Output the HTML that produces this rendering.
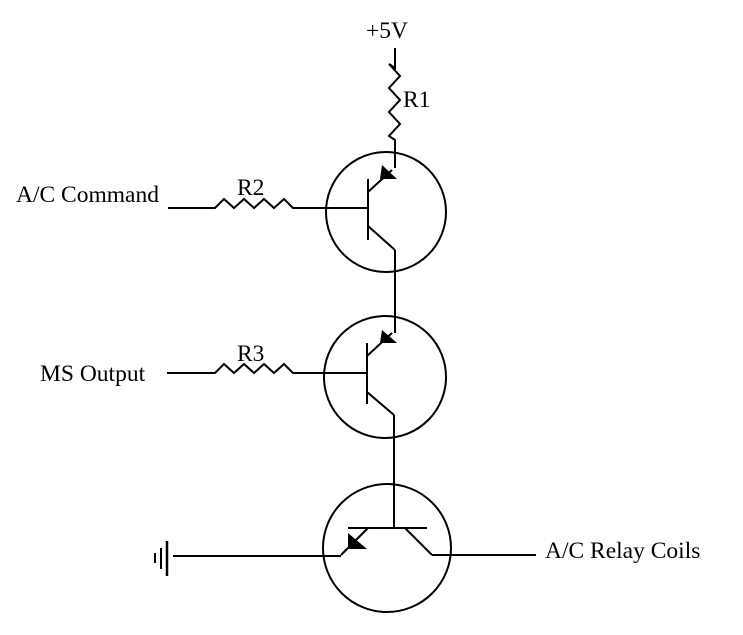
<!DOCTYPE html>
<html><head><style>
html,body{margin:0;padding:0;background:#fff;}
svg{display:block;}
text{font-family:"Liberation Serif",serif;font-size:23.5px;fill:#000;}
</style></head><body>
<svg width="743" height="635" viewBox="0 0 743 635" xmlns="http://www.w3.org/2000/svg">
<g stroke="#000" stroke-width="2" fill="none">
<!-- R1 -->
<polyline points="395,48 395,68 389,64 400,76 389,88 400,100 389,112 400,124 389,136 395,140 395,168"/>
<!-- top transistor -->
<circle cx="386" cy="212" r="60"/>
<line x1="368" y1="179" x2="368" y2="240"/>
<polyline points="168,208 215,208 224,199 234,208 244,199 254,208 264,199 274,208 284,199 293,208 368,208"/>
<line x1="368" y1="192" x2="392" y2="170"/>
<line x1="368" y1="226" x2="395" y2="250"/>
<line x1="395" y1="250" x2="395" y2="333"/>
<!-- mid transistor -->
<circle cx="385" cy="377" r="61"/>
<line x1="367" y1="343" x2="367" y2="404"/>
<polyline points="167,373 215,373 224,364 234,373 244,364 254,373 264,364 274,373 284,364 293,373 367,373"/>
<line x1="367" y1="356" x2="392" y2="333"/>
<line x1="367" y1="392" x2="394" y2="415"/>
<line x1="394" y1="415" x2="394" y2="528"/>
<!-- bottom transistor -->
<circle cx="387" cy="548" r="64"/>
<line x1="348" y1="528" x2="427" y2="528"/>
<line x1="368" y1="528" x2="341" y2="555"/>
<line x1="405" y1="528" x2="432" y2="555"/>
<line x1="173" y1="556" x2="341" y2="556"/>
<line x1="432" y1="555" x2="536" y2="555"/>
<!-- ground -->
<line x1="167" y1="541" x2="167" y2="576" stroke-width="2.5"/>
<line x1="161" y1="548" x2="161" y2="569"/>
<line x1="155" y1="553" x2="155" y2="563"/>
</g>
<g fill="#000">
<polygon points="382,165 397,179 380,179"/>
<polygon points="382,330 397,343 380,343"/>
<polygon points="348,533 348,549 367,549"/>
</g>
<text x="366" y="38">+5V</text>
<text x="403" y="107">R1</text>
<text x="16" y="202">A/C Command</text>
<text x="237" y="195">R2</text>
<text x="40" y="381">MS Output</text>
<text x="237" y="361">R3</text>
<text x="545" y="558">A/C Relay Coils</text>
</svg>
</body></html>
